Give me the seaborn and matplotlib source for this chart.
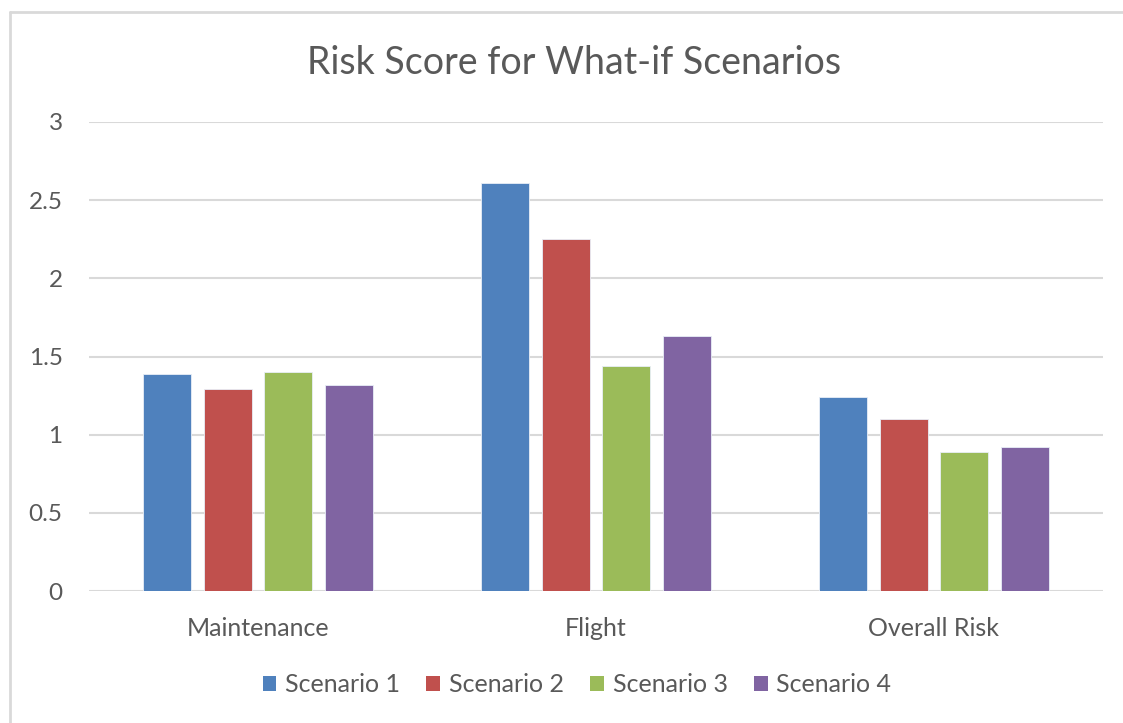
import matplotlib
matplotlib.use("Agg")
import matplotlib.pyplot as plt
from matplotlib.lines import Line2D
from matplotlib.patches import Patch
import seaborn as sns
import pandas as pd

categories = ["Maintenance", "Flight", "Overall Risk"]
series_names = ["Scenario 1", "Scenario 2", "Scenario 3", "Scenario 4"]
scenario1 = [1.39, 2.61, 1.24]
scenario2 = [1.29, 2.25, 1.10]
scenario3 = [1.40, 1.44, 0.89]
scenario4 = [1.32, 1.63, 0.92]
colors = ["#4F81BD", "#C0504D", "#9BBB59", "#8064A2"]
yticks = [0, 0.5, 1, 1.5, 2, 2.5, 3]
ytick_labels = ["0", "0.5", "1", "1.5", "2", "2.5", "3"]

rows = []
for name, vals in zip(series_names, [scenario1, scenario2, scenario3, scenario4]):
    for c, v in zip(categories, vals):
        rows.append({"Category": c, "Series": name, "Value": v})
df = pd.DataFrame(rows)

sns.set_theme(style="white")
plt.rcParams["font.family"] = ["Lato", "DejaVu Sans"]
text_color = "#595959"
grid_color = "#D9D9D9"

fig = plt.figure(figsize=(11.23, 7.23), dpi=100)
ax = fig.add_axes([89/1123, 1-591/723, (1103-89)/1123, (591-122)/723])

sns.barplot(data=df, x="Category", y="Value", hue="Series", order=categories,
            hue_order=series_names, palette=colors, width=0.72, gap=0.21,
            saturation=1, edgecolor="#E8EEF7", linewidth=0.6, ax=ax, legend=False, zorder=3)

ax.set_xlim(-0.5, 2.5)
ax.set_ylim(0, 3)
ax.set_yticks(yticks)
ax.set_yticklabels(ytick_labels)
ax.yaxis.grid(True, color=grid_color, linewidth=1.5, zorder=0)
ax.set_axisbelow(True)
for s in ax.spines.values():
    s.set_visible(False)
ax.axhline(0, color=grid_color, linewidth=1.8, zorder=2)
ax.set_xlabel("")
ax.set_ylabel("")
ax.tick_params(axis="y", length=0, labelsize=17.5, colors=text_color, pad=19)
ax.tick_params(axis="x", length=0, labelsize=18, colors=text_color, pad=18.5)

fig.text(574/1123, 1-63/723, "Risk Score for What-if Scenarios", ha="center", va="center",
         fontsize=27, color=text_color)

handles = [Patch(facecolor=c, edgecolor="none") for c in colors]
fig.legend(handles, series_names, loc="center", bbox_to_anchor=(577/1123, 1-685/723),
           ncol=4, frameon=False, fontsize=18, labelcolor=text_color,
           handlelength=0.55, handleheight=0.55, handletextpad=0.35, columnspacing=1.05)

# chart border (left and top edges visible)
fig.add_artist(Line2D([10/1123, 10/1123], [0, 1-12/723], transform=fig.transFigure,
                      color=grid_color, linewidth=2))
fig.add_artist(Line2D([10/1123, 1], [1-12/723, 1-12/723], transform=fig.transFigure,
                      color=grid_color, linewidth=2))

fig.savefig("out.png", dpi=100, facecolor="white")
